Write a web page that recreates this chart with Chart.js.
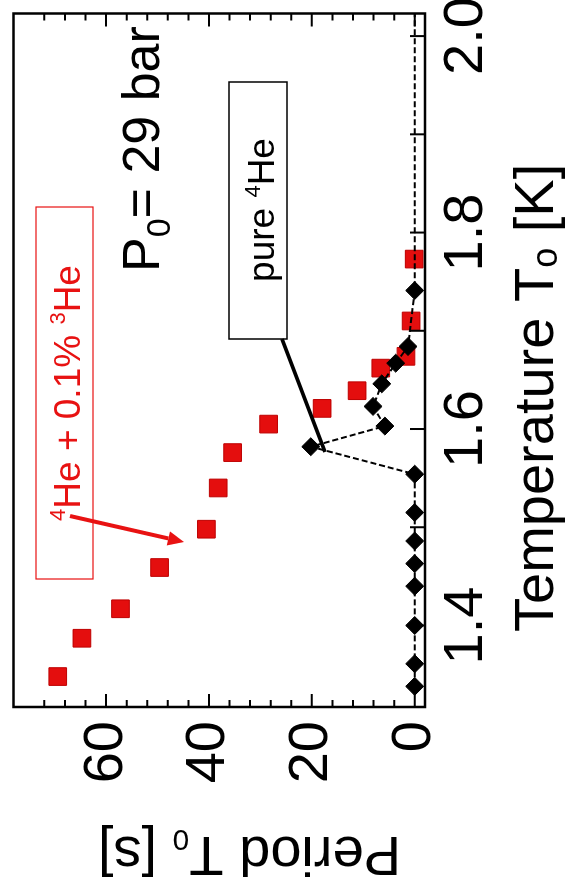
<!DOCTYPE html>
<html>
<head>
<meta charset="utf-8">
<script src="https://cdn.jsdelivr.net/npm/chart.js@4.4.0/dist/chart.umd.min.js"></script>
<style>
  html, body { margin: 0; padding: 0; background: #fff; overflow: hidden; }
  /* the plot is laid out landscape and turned a quarter turn to stand upright */
  #wrap {
    position: absolute; left: 0; top: 0; width: 893px; height: 567px;
    transform-origin: 0 0; transform: translateY(893px) rotate(-90deg);
  }
</style>
</head>
<body>
<div id="wrap"><canvas id="periodChart" width="893" height="567"></canvas></div>
<script>
// 4He + 0.1% 3He mixture: temperature [K] and period [s]
const tempMix   = [1.348, 1.387, 1.417, 1.459, 1.498, 1.540, 1.576, 1.605, 1.621, 1.639, 1.662, 1.674, 1.710, 1.773];
const periodMix = [69.4, 64.7, 57.2, 49.6, 40.5, 38.2, 35.4, 28.4, 18.0, 11.2, 6.6, 1.7, 0.7, 0.1];

// pure 4He (line runs on along zero past the last marker)
const tempPure   = [1.338, 1.361, 1.400, 1.440, 1.463, 1.486, 1.515, 1.554, 1.582, 1.603, 1.623, 1.646, 1.667, 1.684, 1.741, 2.06];
const periodPure = [0, 0, 0, 0, 0, 0, 0, 0, 20.2, 5.8, 8.1, 6.4, 3.7, 1.3, 0, 0];

const tempTicks = [1.4, 1.6, 1.8, 2.0];
const periodTicks = [0, 20, 40, 60];

const FONT = '"Liberation Sans", Arial, sans-serif';

function runsWidth(ctx, runs) {
  let w = 0;
  for (const r of runs) {
    ctx.font = r.size + 'px ' + FONT;
    w += ctx.measureText(r.t).width;
  }
  return w;
}

function richText(ctx, x, y, runs, color) {
  ctx.fillStyle = color;
  ctx.textBaseline = 'alphabetic';
  ctx.textAlign = 'left';
  let cx = x;
  for (const r of runs) {
    ctx.font = r.size + 'px ' + FONT;
    ctx.fillText(r.t, cx, y + (r.dy || 0));
    cx += ctx.measureText(r.t).width;
  }
}

function arrow(ctx, x1, y1, x2, y2, color, width, head) {
  const ang = Math.atan2(y2 - y1, x2 - x1);
  const bx = x2 - Math.cos(ang) * head, by = y2 - Math.sin(ang) * head;
  ctx.strokeStyle = color;
  ctx.fillStyle = color;
  ctx.lineWidth = width;
  ctx.beginPath();
  ctx.moveTo(x1, y1);
  ctx.lineTo(bx, by);
  ctx.stroke();
  ctx.beginPath();
  ctx.moveTo(x2, y2);
  ctx.lineTo(bx + Math.sin(ang) * head * 0.45, by - Math.cos(ang) * head * 0.45);
  ctx.lineTo(bx - Math.sin(ang) * head * 0.45, by + Math.cos(ang) * head * 0.45);
  ctx.closePath();
  ctx.fill();
}

// frame, inward tick marks, labels and titles
const decor = {
  id: 'decor',
  afterDraw(chart) {
    const { ctx, chartArea: a, scales: { x, y } } = chart;
    ctx.save();

    ctx.strokeStyle = '#000';
    ctx.lineWidth = 2.5;
    ctx.strokeRect(a.left, a.top, a.right - a.left, a.bottom - a.top);

    ctx.lineWidth = 2;
    ctx.beginPath();
    for (let t = 1.4; t < 2.05; t += 0.1) {
      const px = x.getPixelForValue(t);
      ctx.moveTo(px, a.bottom);
      ctx.lineTo(px, a.bottom - 15);
    }
    for (let p = 0; p <= 72; p += 4) {
      const py = y.getPixelForValue(p);
      const len = p % 20 === 0 ? 13 : 7;
      ctx.moveTo(a.left, py);
      ctx.lineTo(a.left + len, py);
      ctx.moveTo(a.right, py);
      ctx.lineTo(a.right - len, py);
    }
    ctx.stroke();

    // axis titles
    richText(ctx, 261, 553, [
      { t: 'Temperature T', size: 56 },
      { t: 'o', size: 36, dy: 4 },
      { t: ' [K]', size: 56 }
    ], '#000');

    ctx.save();
    ctx.translate(56, 401);
    ctx.rotate(-Math.PI / 2);
    richText(ctx, 0, 0, [
      { t: 'Period T', size: 56 },
      { t: '0', size: 30, dy: 7 },
      { t: ' [s]', size: 56 }
    ], '#000');
    ctx.restore();

    // pressure note
    richText(ctx, 621, 159, [
      { t: 'P', size: 52 },
      { t: '0', size: 34, dy: 11 },
      { t: '= 29 bar', size: 52 }
    ], '#000');

    // pure 4He label box and leader
    ctx.fillStyle = '#fff';
    ctx.fillRect(554, 229, 257, 58);
    ctx.strokeStyle = '#000';
    ctx.lineWidth = 1.5;
    ctx.strokeRect(554, 229, 257, 58);
    const pureRuns = [
      { t: 'pure ', size: 37 },
      { t: '4', size: 22, dy: -14 },
      { t: 'He', size: 37 }
    ];
    richText(ctx, 683 - runsWidth(ctx, pureRuns) / 2, 274, pureRuns, '#000');
    ctx.lineWidth = 3.5;
    ctx.beginPath();
    ctx.moveTo(554, 282);
    ctx.lineTo(441, 325);
    ctx.stroke();

    // mixture label box and arrow
    const red = 'rgb(232, 18, 18)';
    ctx.strokeStyle = red;
    ctx.lineWidth = 1.2;
    ctx.strokeRect(314, 36, 372, 57);
    const mixRuns = [
      { t: '4', size: 22, dy: -15 },
      { t: 'He + 0.1% ', size: 37 },
      { t: '3', size: 22, dy: -15 },
      { t: 'He', size: 37 }
    ];
    richText(ctx, 500 - runsWidth(ctx, mixRuns) / 2, 80, mixRuns, red);
    arrow(ctx, 377, 70, 351, 184, red, 4, 16);

    ctx.restore();
  }
};

new Chart(document.getElementById('periodChart'), {
  type: 'scatter',
  data: {
    datasets: [
      {
        label: 'pure 4He',
        data: tempPure.map((t, i) => ({ x: t, y: periodPure[i] })),
        showLine: true,
        borderColor: '#000',
        borderWidth: 2,
        borderDash: [6, 3],
        pointStyle: 'rectRot',
        pointRadius: tempPure.map((t, i) => (i === tempPure.length - 1 ? 0 : 9)),
        pointBackgroundColor: '#000',
        pointBorderColor: '#000',
        pointBorderWidth: 1,
        order: 0
      },
      {
        label: '4He + 0.1% 3He',
        data: tempMix.map((t, i) => ({ x: t, y: periodMix[i] })),
        showLine: false,
        pointStyle: 'rect',
        pointRadius: 12.5,
        pointBackgroundColor: 'rgb(228, 14, 14)',
        pointBorderColor: 'rgb(190, 0, 0)',
        pointBorderWidth: 1,
        order: 1
      }
    ]
  },
  options: {
    responsive: false,
    animation: false,
    layout: { padding: { left: 0, right: 7, top: 13, bottom: 0 } },
    plugins: { legend: { display: false }, tooltip: { enabled: false } },
    scales: {
      x: {
        type: 'linear',
        position: 'bottom',
        min: 1.317,
        max: 2.023,
        grid: { display: false, drawTicks: false },
        border: { display: false },
        ticks: {
          color: '#000',
          font: { family: FONT, size: 56 },
          padding: 8,
          maxRotation: 0,
          autoSkip: false,
          callback: v => v.toFixed(1)
        },
        afterBuildTicks: s => { s.ticks = tempTicks.map(v => ({ value: v })); },
        afterFit: s => { s.height = 142; s.paddingLeft = 0; s.paddingRight = 0; }
      },
      y: {
        type: 'linear',
        position: 'left',
        min: -2,
        max: 78,
        grid: { display: false, drawTicks: false },
        border: { display: false },
        ticks: {
          color: '#000',
          font: { family: FONT, size: 56 },
          padding: 14,
          autoSkip: false
        },
        afterBuildTicks: s => { s.ticks = periodTicks.map(v => ({ value: v })); },
        afterFit: s => { s.width = 186; s.paddingTop = 0; s.paddingBottom = 0; }
      }
    }
  },
  plugins: [decor]
});
</script>
</body>
</html>
